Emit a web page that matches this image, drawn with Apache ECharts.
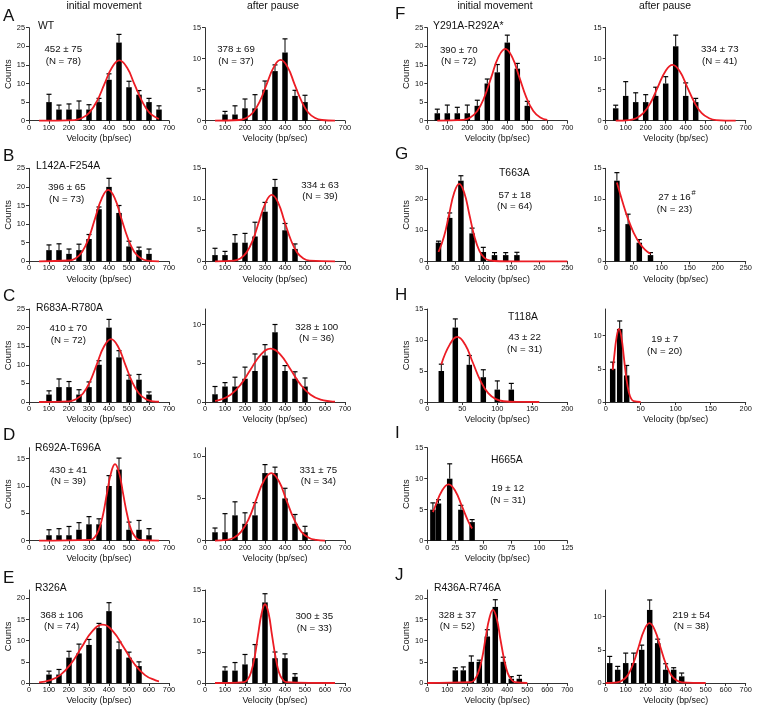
<!DOCTYPE html>
<html><head><meta charset="utf-8">
<script src="https://cdn.jsdelivr.net/npm/echarts@6/dist/echarts.min.js"></script>
<style>html,body{margin:0;padding:0;background:#fff}#c{width:757px;height:710px}</style>
</head><body><div id="c"></div>
<script>
// ---------- DATA ----------
// tick label sets
const xT700 = [0, 100, 200, 300, 400, 500, 600, 700];
const xT250 = [0, 50, 100, 150, 200, 250];
const xT200 = [0, 50, 100, 150, 200];
const xT125 = [0, 25, 50, 75, 100, 125];
const yT30 = [0, 10, 20, 30];
const yT25 = [0, 5, 10, 15, 20, 25];
const yT20 = [0, 5, 10, 15, 20];
const yT15 = [0, 5, 10, 15];
const yT10 = [0, 5, 10];

// A  WT
const aInitBins = [100, 150, 200, 250, 300, 350, 400, 450, 500, 550, 600, 650];
const aInitCounts = [5, 3, 3, 3, 3, 5, 11, 21, 9, 7, 5, 3];
const aInitUpper = [7.1, 4.2, 4.5, 5.3, 4.3, 6.0, 12.6, 23.2, 10.6, 8.1, 6.0, 4.0];
const aInitCurveX = [50, 227, 265, 302, 340, 377, 415, 452, 490, 527, 565, 602, 640, 650];
const aInitCurveY = [0, 0.18, 0.71, 2.19, 5.27, 9.83, 14.29, 16.2, 14.29, 9.83, 5.27, 2.19, 0.71, 0.5];
const aPauseBins = [100, 150, 200, 250, 300, 350, 400, 450, 500];
const aPauseCounts = [1, 1, 2, 2, 5, 8, 11, 4, 3];
const aPauseUpper = [1.5, 2.4, 3.5, 4.2, 6.4, 9.0, 13.2, 4.9, 4.1];
const aPauseCurveX = [50, 171, 206, 240, 275, 309, 344, 378, 413, 447, 482, 516, 551, 585, 650];
const aPauseCurveY = [0, 0.11, 0.43, 1.32, 3.19, 5.95, 8.64, 9.8, 8.64, 5.95, 3.19, 1.32, 0.43, 0.11, 0];

// B  L142A-F254A
const bInitBins = [100, 150, 200, 250, 300, 350, 400, 450, 500, 550, 600];
const bInitCounts = [3, 3, 2, 3, 6, 14, 20, 13, 4, 3, 2];
const bInitUpper = [4.4, 4.7, 3.3, 4.6, 7.2, 14.6, 22.3, 15.0, 5.4, 3.8, 3.3];
const bInitCurveX = [50, 201, 234, 266, 299, 331, 364, 396, 429, 461, 494, 526, 559, 591, 650];
const bInitCurveY = [0, 0.21, 0.84, 2.59, 6.24, 11.65, 16.93, 19.2, 16.93, 11.65, 6.24, 2.59, 0.84, 0.21, 0];
const bPauseBins = [50, 100, 150, 200, 250, 300, 350, 400, 450];
const bPauseCounts = [1, 1, 3, 3, 4, 8, 12, 5, 2];
const bPauseUpper = [2.1, 1.6, 4.3, 4.5, 6.3, 9.5, 13.2, 6.1, 2.8];
const bPauseCurveX = [50, 145, 177, 208, 240, 271, 303, 334, 366, 397, 429, 460, 492, 523, 650];
const bPauseCurveY = [0, 0.12, 0.47, 1.44, 3.48, 6.49, 9.44, 10.7, 9.44, 6.49, 3.48, 1.44, 0.47, 0.12, 0];

// C  R683A-R780A
const cInitBins = [100, 150, 200, 250, 300, 350, 400, 450, 500, 550, 600];
const cInitCounts = [2, 4, 4, 2, 4, 10, 20, 12, 6, 6, 2];
const cInitUpper = [3.0, 6.2, 5.5, 3.3, 5.4, 11.1, 22.2, 13.8, 7.2, 7.4, 2.7];
const cInitCurveX = [50, 200, 235, 270, 305, 340, 375, 410, 445, 480, 515, 550, 585, 620, 650];
const cInitCurveY = [0, 0.19, 0.74, 2.28, 5.49, 10.26, 14.91, 16.9, 14.91, 10.26, 5.49, 2.28, 0.74, 0.19, 0.07];
const cPauseBins = [50, 100, 150, 200, 250, 300, 350, 400, 450, 500];
const cPauseCounts = [1, 2, 2, 3, 4, 6, 9, 4, 3, 2];
const cPauseUpper = [2.0, 2.5, 3.2, 4.5, 6.2, 7.4, 10.0, 4.7, 3.9, 3.1];
const cPauseCurveX = [50, 78, 128, 178, 228, 278, 328, 378, 428, 478, 528, 578, 628, 650];
const cPauseCurveY = [0.15, 0.30, 0.93, 2.24, 4.19, 6.09, 6.9, 6.09, 4.19, 2.24, 0.93, 0.30, 0.08, 0.04];

// D  R692A-T696A
const dInitBins = [100, 150, 200, 250, 300, 350, 400, 450, 500, 550, 600];
const dInitCounts = [1, 1, 1, 2, 3, 3, 10, 13, 2, 2, 1];
const dInitUpper = [2.0, 2.2, 2.6, 3.3, 4.4, 4.0, 11.9, 15.1, 3.4, 3.7, 2.2];
const dInitCurveX = [50, 307, 328, 348, 369, 389, 410, 430, 451, 471, 492, 512, 533, 553, 650];
const dInitCurveY = [0, 0.15, 0.62, 1.89, 4.55, 8.5, 12.35, 14, 12.35, 8.5, 4.55, 1.89, 0.62, 0.15, 0];
const dPauseBins = [50, 100, 150, 200, 250, 300, 350, 400, 450, 500];
const dPauseCounts = [1, 1, 3, 2, 3, 8, 8, 5, 2, 1];
const dPauseUpper = [1.5, 3.2, 4.6, 3.3, 4.5, 9.0, 8.7, 6.2, 3.1, 1.7];
const dPauseCurveX = [50, 106, 144, 181, 219, 256, 294, 331, 369, 406, 444, 481, 519, 556, 600];
const dPauseCurveY = [0.01, 0.09, 0.35, 1.08, 2.6, 4.86, 7.06, 8, 7.06, 4.86, 2.6, 1.08, 0.35, 0.09, 0.01];

// E  R326A
const eInitBins = [100, 150, 200, 250, 300, 350, 400, 450, 500, 550];
const eInitCounts = [2, 2, 6, 7, 9, 13, 17, 8, 6, 4];
const eInitUpper = [2.8, 3.2, 7.5, 9.2, 10.3, 14.1, 19.0, 9.7, 7.3, 5.0];
const eInitCurveX = [50, 103, 156, 209, 262, 315, 368, 421, 474, 527, 580, 633, 650];
const eInitCurveY = [0.15, 0.61, 1.86, 4.49, 8.38, 12.17, 13.8, 12.17, 8.38, 4.49, 1.86, 0.61, 0.4];
const ePauseBins = [100, 150, 200, 250, 300, 350, 400, 450];
const ePauseCounts = [2, 2, 3, 4, 13, 4, 4, 1];
const ePauseUpper = [2.6, 3.3, 4.6, 6.2, 14.4, 5.0, 4.7, 1.5];
const ePauseCurveX = [50, 195, 213, 230, 248, 265, 283, 300, 318, 335, 353, 370, 388, 405, 650];
const ePauseCurveY = [0, 0.14, 0.56, 1.71, 4.13, 7.71, 11.2, 12.7, 11.2, 7.71, 4.13, 1.71, 0.56, 0.14, 0];

// F  Y291A-R292A*
const fInitBins = [50, 100, 150, 200, 250, 300, 350, 400, 450, 500];
const fInitCounts = [2, 2, 2, 2, 4, 10, 13, 21, 14, 4];
const fInitUpper = [3.1, 4.2, 3.6, 4.2, 5.5, 11.2, 15.1, 23.0, 15.4, 5.2];
const fInitCurveX = [50, 180, 215, 250, 285, 320, 355, 390, 425, 460, 495, 530, 565, 600];
const fInitCurveY = [0, 0.21, 0.85, 2.61, 6.27, 11.72, 17.02, 19.3, 17.02, 11.72, 6.27, 2.61, 0.85, 0.21];
const fPauseBins = [50, 100, 150, 200, 250, 300, 350, 400, 450];
const fPauseCounts = [2, 4, 3, 3, 4, 6, 12, 4, 3];
const fPauseUpper = [2.5, 6.3, 4.5, 4.2, 5.4, 7.1, 13.8, 6.1, 3.6];
const fPauseCurveX = [50, 115, 152, 188, 225, 261, 298, 334, 371, 407, 444, 480, 517, 553, 650];
const fPauseCurveY = [0, 0.1, 0.4, 1.22, 2.93, 5.46, 7.94, 9, 7.94, 5.46, 2.93, 1.22, 0.4, 0.1, 0];

// G  T663A
const gInitBins = [20, 40, 60, 80, 100, 120, 140, 160];
const gInitCounts = [6, 14, 26, 9, 3, 2, 2, 2];
const gInitUpper = [6.5, 15.6, 27.6, 10.7, 4.5, 2.8, 2.8, 2.9];
const gInitCurveX = [20, 30, 39, 48, 57, 66, 75, 84, 93, 102, 111, 130, 250];
const gInitCurveY = [3.0, 8.1, 15.2, 22.1, 25, 22.1, 15.2, 8.1, 3.4, 1.1, 0.28, 0.01, 0];
const gPauseBins = [20, 40, 60, 80];
const gPauseCounts = [13, 6, 3, 1];
const gPauseUpper = [14.3, 7.6, 3.5, 1.4];
const gPauseCurveX = [20, 30, 40, 50, 60, 70, 80];
const gPauseCurveY = [12.7, 9.6, 6.8, 4.6, 3.0, 1.9, 1.2];

// H  T118A
const hInitBins = [20, 40, 60, 80, 100, 120];
const hInitCounts = [5, 12, 6, 4, 2, 2];
const hInitUpper = [6.1, 13.4, 7.5, 5.2, 3.4, 3.0];
const hInitCurveX = [20, 32, 43, 54, 65, 76, 87, 98, 109, 130, 160];
const hInitCurveY = [6.06, 9.26, 10.5, 9.26, 6.37, 3.41, 1.42, 0.46, 0.12, 0.01, 0];
const hPauseBins = [10, 20, 30];
const hPauseCounts = [5, 11, 4];
const hPauseUpper = [6.0, 12.2, 5.5];
const hPauseCurveX = [10, 12, 15.5, 19, 22.5, 26, 29.5, 33, 36.5, 40, 50];
const hPauseCurveY = [4.8, 6.67, 9.7, 11, 9.7, 6.67, 3.57, 1.49, 0.48, 0.12, 0];

// I  H665A
const iInitBins = [5, 10, 20, 30, 40];
const iInitCounts = [5, 6, 10, 5, 3];
const iInitUpper = [6.1, 6.6, 12.4, 5.7, 3.4];
const iInitCurveX = [5, 7, 13, 19, 25, 31, 37, 40];
const iInitCurveY = [4.6, 5.52, 8.03, 9.1, 8.03, 5.52, 2.96, 1.97];

// J  R436A-R746A
const jInitBins = [140, 180, 220, 260, 300, 340, 380, 420, 460];
const jInitCounts = [3, 3, 5, 5, 11, 18, 5, 1, 1];
const jInitUpper = [3.6, 3.8, 6.4, 5.4, 12.6, 19.7, 6.1, 1.5, 1.8];
const jInitCurveX = [0, 217, 236, 254, 273, 291, 310, 328, 347, 365, 384, 402, 421, 439, 500];
const jInitCurveY = [0, 0.19, 0.76, 2.34, 5.62, 10.5, 15.26, 17.3, 15.26, 10.5, 5.62, 2.34, 0.76, 0.19, 0];
const jPauseBins = [20, 60, 100, 140, 180, 220, 260, 300, 340, 380];
const jPauseCounts = [3, 2, 3, 3, 5, 11, 6, 2, 2, 1];
const jPauseUpper = [4.0, 2.5, 4.5, 4.5, 5.7, 12.5, 6.6, 2.9, 2.3, 1.5];
const jPauseCurveX = [0, 57, 84, 111, 138, 165, 192, 219, 246, 273, 300, 327, 354, 381, 500];
const jPauseCurveY = [0, 0.1, 0.4, 1.22, 2.93, 5.46, 7.94, 9, 7.94, 5.46, 2.93, 1.22, 0.4, 0.1, 0];

// text content
const columnTitles = ['initial movement', 'after pause'];
const panelLetters = ['A', 'B', 'C', 'D', 'E', 'F', 'G', 'H', 'I', 'J'];
const strainNames = ['WT', 'L142A-F254A', 'R683A-R780A', 'R692A-T696A', 'R326A',
  'Y291A-R292A*', 'T663A', 'T118A', 'H665A', 'R436A-R746A'];
const statMeans = ['452 ± 75', '378 ± 69', '396 ± 65', '334 ± 63', '410 ± 70', '328 ± 100',
  '430 ± 41', '331 ± 75', '368 ± 106', '300 ± 35', '390 ± 70', '334 ± 73', '57 ± 18', '27 ± 16',
  '43 ± 22', '19 ± 7', '19 ± 12', '328 ± 37', '219 ± 54'];
const statNs = ['(N = 78)', '(N = 37)', '(N = 73)', '(N = 39)', '(N = 72)', '(N = 36)', '(N = 39)',
  '(N = 34)', '(N = 74)', '(N = 33)', '(N = 72)', '(N = 41)', '(N = 64)', '(N = 23)', '(N = 31)',
  '(N = 20)', '(N = 31)', '(N = 52)', '(N = 38)'];
const xName = 'Velocity (bp/sec)';
const yName = 'Counts';

// ---------- LAYOUT ----------
const FONT = '"Liberation Sans", Arial, Helvetica, sans-serif';
const INK = '#111';
const AXIS = '#333';
const RED = '#ec1c24';
const colX = [29, 205, 427.3, 605.7];
const rowBase = [120.7, 261.3, 402, 540.7, 683];
const PW = 140, PH = 93;
const BAR_W = 5.5, CAP_W = 5;

const panels = [
  {c:0,r:0,b:aInitBins,n:aInitCounts,u:aInitUpper,cx:aInitCurveX,cy:aInitCurveY,yMax:25,yt:yT25,xMax:700,xt:xT700,lab:true, s:[63.3,49.3]},
  {c:1,r:0,b:aPauseBins,n:aPauseCounts,u:aPauseUpper,cx:aPauseCurveX,cy:aPauseCurveY,yMax:15,yt:yT15,xMax:700,xt:xT700,lab:false, s:[236,49.3]},
  {c:0,r:1,b:bInitBins,n:bInitCounts,u:bInitUpper,cx:bInitCurveX,cy:bInitCurveY,yMax:25,yt:yT25,xMax:700,xt:xT700,lab:true, s:[66.7,187.7]},
  {c:1,r:1,b:bPauseBins,n:bPauseCounts,u:bPauseUpper,cx:bPauseCurveX,cy:bPauseCurveY,yMax:15,yt:yT15,xMax:700,xt:xT700,lab:false, s:[320,185]},
  {c:0,r:2,b:cInitBins,n:cInitCounts,u:cInitUpper,cx:cInitCurveX,cy:cInitCurveY,yMax:25,yt:yT25,xMax:700,xt:xT700,lab:true, s:[68.3,328.3]},
  {c:1,r:2,b:cPauseBins,n:cPauseCounts,u:cPauseUpper,cx:cPauseCurveX,cy:cPauseCurveY,yMax:12,yt:yT10,xMax:700,xt:xT700,lab:false, s:[316.7,327]},
  {c:0,r:3,b:dInitBins,n:dInitCounts,u:dInitUpper,cx:dInitCurveX,cy:dInitCurveY,yMax:17,yt:yT15,xMax:700,xt:xT700,lab:true, s:[68.3,470]},
  {c:1,r:3,b:dPauseBins,n:dPauseCounts,u:dPauseUpper,cx:dPauseCurveX,cy:dPauseCurveY,yMax:11,yt:yT10,xMax:700,xt:xT700,lab:false, s:[318.3,470]},
  {c:0,r:4,b:eInitBins,n:eInitCounts,u:eInitUpper,cx:eInitCurveX,cy:eInitCurveY,yMax:22,yt:yT20,xMax:700,xt:xT700,lab:true, s:[61.7,615]},
  {c:1,r:4,b:ePauseBins,n:ePauseCounts,u:ePauseUpper,cx:ePauseCurveX,cy:ePauseCurveY,yMax:15,yt:yT15,xMax:700,xt:xT700,lab:false, s:[314.3,616.7]},
  {c:2,r:0,b:fInitBins,n:fInitCounts,u:fInitUpper,cx:fInitCurveX,cy:fInitCurveY,yMax:25,yt:yT25,xMax:700,xt:xT700,lab:true, s:[458.7,50]},
  {c:3,r:0,b:fPauseBins,n:fPauseCounts,u:fPauseUpper,cx:fPauseCurveX,cy:fPauseCurveY,yMax:15,yt:yT15,xMax:700,xt:xT700,lab:false, s:[719.7,49.3]},
  {c:2,r:1,b:gInitBins,n:gInitCounts,u:gInitUpper,cx:gInitCurveX,cy:gInitCurveY,yMax:30,yt:yT30,xMax:250,xt:xT250,lab:true, s:[514.7,195]},
  {c:3,r:1,b:gPauseBins,n:gPauseCounts,u:gPauseUpper,cx:gPauseCurveX,cy:gPauseCurveY,yMax:15,yt:yT15,xMax:250,xt:xT250,lab:false, s:[674.5,197.7]},
  {c:2,r:2,b:hInitBins,n:hInitCounts,u:hInitUpper,cx:hInitCurveX,cy:hInitCurveY,yMax:15,yt:yT15,xMax:200,xt:xT200,lab:true, s:[524.7,337.7]},
  {c:3,r:2,b:hPauseBins,n:hPauseCounts,u:hPauseUpper,cx:hPauseCurveX,cy:hPauseCurveY,yMax:14,yt:yT10,xMax:200,xt:xT200,lab:false, s:[664.7,339.3]},
  {c:2,r:3,b:iInitBins,n:iInitCounts,u:iInitUpper,cx:iInitCurveX,cy:iInitCurveY,yMax:15,yt:yT15,xMax:125,xt:xT125,lab:true, s:[508,488.3]},
  {c:2,r:4,b:jInitBins,n:jInitCounts,u:jInitUpper,cx:jInitCurveX,cy:jInitCurveY,yMax:22,yt:yT20,xMax:700,xt:xT700,lab:true, s:[457.3,615]},
  {c:3,r:4,b:jPauseBins,n:jPauseCounts,u:jPauseUpper,cx:jPauseCurveX,cy:jPauseCurveY,yMax:14,yt:yT10,xMax:700,xt:xT700,lab:false, s:[691.3,615]}
];

const letterPos = [[3,16.5],[3,156.7],[3,296.7],[3,435],[3,578],[395,14],[395,154.5],[395,295.7],[395,433.5],[395,575]];
const strainPos = [[38,26],[36,166],[36,308.3],[35,447.7],[35,588.3],[433,26],[499,173.3],[508,316.7],[491,460],[434,588.3]];
const titlePos = [[104,6],[273,6],[495,6],[665,6]];

const grid = [], xAxis = [], yAxis = [], series = [], graphic = [];

function txt(x, y, s, size, align, valign) {
  return {type:'text', x:x, y:y, silent:true, z:100,
    style:{text:s, fontSize:size, fontFamily:FONT, fill:INK, align:align, verticalAlign:valign}};
}

panels.forEach(function (p, i) {
  grid.push({left: colX[p.c], top: rowBase[p.r] - PH, width: PW, height: PH, containLabel:false, outerBoundsMode:'none'});
  xAxis.push({
    gridIndex:i, type:'value', min:0, max:p.xMax,
    axisLine:{show:true, onZero:false, lineStyle:{color:AXIS, width:1}},
    axisTick:{show:true, length:3, customValues:p.xt, lineStyle:{color:AXIS, width:1}},
    axisLabel:{show:true, customValues:p.xt, fontSize:7.4, fontFamily:FONT, color:INK, margin:3.5},
    splitLine:{show:false},
    name:xName, nameLocation:'middle', nameGap:13.5,
    nameTextStyle:{fontSize:8.9, fontFamily:FONT, color:INK}
  });
  yAxis.push({
    gridIndex:i, type:'value', min:0, max:p.yMax,
    axisLine:{show:true, onZero:false, lineStyle:{color:AXIS, width:1}},
    axisTick:{show:true, length:3, customValues:p.yt, lineStyle:{color:AXIS, width:1}},
    axisLabel:{show:true, customValues:p.yt, fontSize:7.4, fontFamily:FONT, color:INK, margin:4},
    splitLine:{show:false},
    name: p.lab ? yName : '', nameLocation:'middle', nameGap:16, nameRotate:90,
    nameTextStyle:{fontSize:9.4, fontFamily:FONT, color:INK}
  });
  series.push({
    type:'custom', xAxisIndex:i, yAxisIndex:i, z:2, clip:false,
    encode:{x:0, y:[1,2]},
    data: p.b.map(function (b, k) { return [b, p.n[k], p.u[k]]; }),
    renderItem: function (params, api) {
      const base = api.coord([api.value(0), 0]);
      const top = api.coord([api.value(0), api.value(1)]);
      const et = api.coord([api.value(0), api.value(2)]);
      const cx = base[0];
      return {type:'group', children:[
        {type:'rect', shape:{x: cx - BAR_W/2, y: top[1], width: BAR_W, height: base[1]-top[1]}, style:{fill:'#000'}},
        {type:'line', shape:{x1: cx, y1: top[1], x2: cx, y2: et[1]}, style:{stroke:'#000', lineWidth:1}},
        {type:'line', shape:{x1: cx - CAP_W/2, y1: et[1], x2: cx + CAP_W/2, y2: et[1]}, style:{stroke:'#000', lineWidth:1.2}}
      ]};
    }
  });
  series.push({
    type:'line', xAxisIndex:i, yAxisIndex:i, z:5, clip:false, smooth:0.45,
    symbol:'none', silent:true,
    lineStyle:{color:RED, width:1.8},
    data: p.cx.map(function (x, k) { return [x, p.cy[k]]; })
  });
  graphic.push(txt(p.s[0], p.s[1], statMeans[i], 9.7, 'center', 'middle'));
  graphic.push(txt(p.s[0], p.s[1] + 11.7, statNs[i], 9.7, 'center', 'middle'));
});

// superscript on G "after pause"
graphic.push(txt(691.5, 192.5, '#', 7.5, 'left', 'middle'));

titlePos.forEach(function (t, k) { graphic.push(txt(t[0], t[1], columnTitles[k % 2], 10.4, 'center', 'middle')); });
panelLetters.forEach(function (L, k) { graphic.push(txt(letterPos[k][0], letterPos[k][1], L, 17, 'left', 'middle')); });
strainNames.forEach(function (s, k) { graphic.push(txt(strainPos[k][0], strainPos[k][1], s, 10.4, 'left', 'middle')); });

const chart = echarts.init(document.getElementById('c'), null, {renderer:'canvas'});
chart.setOption({
  animation:false,
  backgroundColor:'#fff',
  textStyle:{fontFamily:FONT},
  grid:grid, xAxis:xAxis, yAxis:yAxis, series:series, graphic:graphic
});
</script>
</body></html>
